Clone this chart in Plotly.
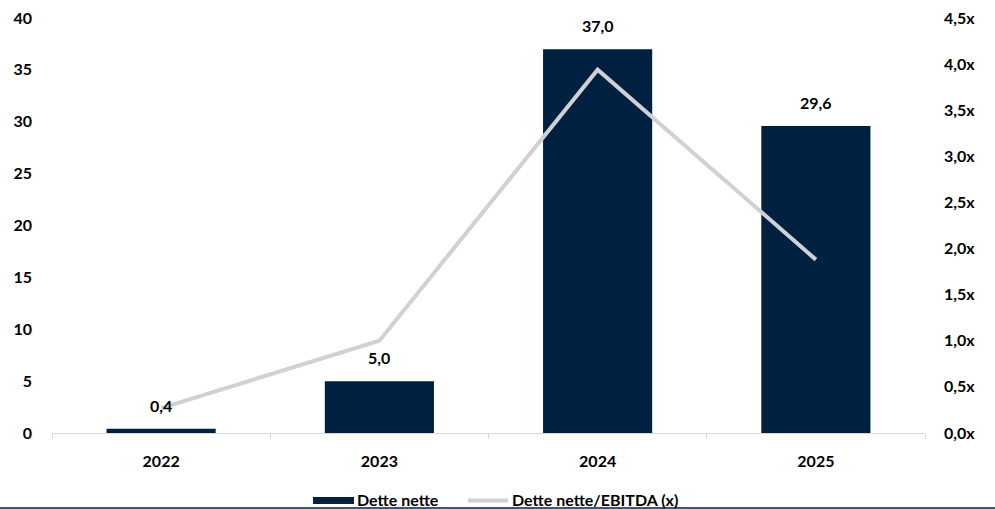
import plotly.graph_objects as go

years = ["2022", "2023", "2024", "2025"]
net_debt = [0.4, 5.0, 37.0, 29.6]
debt_ebitda = [0.27, 1.0, 3.94, 1.88]
bar_labels = ["0,4", "5,0", "37,0", "29,6"]
series_names = ["Dette nette", "Dette nette/EBITDA (x)"]

BAR = "#00203f"
LINE = "#cfd1d5"
FONT = "Lato"

W, H = 995, 509
L, R, T, B = 52, 70, 18, 76
pw = W - L - R
ph = H - T - B


def px_x(x):
    return (x - L) / pw


def px_y(y):
    return (H - B - y) / ph


fig = go.Figure()
fig.add_trace(go.Bar(
    x=years, y=net_debt, name=series_names[0],
    marker=dict(color=BAR, line=dict(width=0)),
    width=0.5, showlegend=False,
))
fig.add_trace(go.Scatter(
    x=years, y=debt_ebitda, name=series_names[1], yaxis="y2",
    mode="lines", line=dict(color=LINE, width=4), showlegend=False,
))

annotations = [
    dict(x=i, y=v, text=lab, xref="x", yref="y", showarrow=False,
         yanchor="bottom", yshift=12,
         font=dict(family=FONT, size=16, color="#000000", weight="bold"))
    for i, (v, lab) in enumerate(zip(net_debt, bar_labels))
]
# custom legend labels
annotations += [
    dict(x=px_x(355), y=px_y(500), xref="paper", yref="paper", text=series_names[0],
         showarrow=False, xanchor="left", yanchor="middle",
         font=dict(family=FONT, size=16, color="#000000", weight="bold")),
    dict(x=px_x(510), y=px_y(500), xref="paper", yref="paper", text=series_names[1],
         showarrow=False, xanchor="left", yanchor="middle",
         font=dict(family=FONT, size=16, color="#000000", weight="bold")),
]

shapes = [
    dict(type="line", xref="paper", yref="paper",
         x0=px_x(0), x1=px_x(W), y0=px_y(508), y1=px_y(508),
         line=dict(color="#44546a", width=2)),
    dict(type="rect", xref="paper", yref="paper",
         x0=px_x(313), x1=px_x(354), y0=px_y(497), y1=px_y(504),
         fillcolor=BAR, line=dict(width=0)),
    dict(type="line", xref="paper", yref="paper",
         x0=px_x(468), x1=px_x(508), y0=px_y(500.5), y1=px_y(500.5),
         line=dict(color=LINE, width=4)),
]

fig.update_layout(
    width=W, height=H,
    margin=dict(l=L, r=R, t=T, b=B, autoexpand=False),
    paper_bgcolor="white", plot_bgcolor="white",
    separators=",.",
    font=dict(family=FONT, size=16, color="#000000", weight="bold"),
    showlegend=False,
    xaxis=dict(type="category", range=[-0.5, len(years) - 0.5],
               showline=True, linecolor="#d9d9d9", linewidth=1,
               ticks="outside", tickson="boundaries", tickcolor="#d9d9d9", ticklen=5,
               showgrid=False, ticklabelstandoff=14,
               tickfont=dict(family=FONT, size=16, weight="bold")),
    yaxis=dict(range=[0, 40], dtick=5, showgrid=False, zeroline=False, showline=False,
               ticks="", ticklabelstandoff=19,
               tickfont=dict(family=FONT, size=16, weight="bold")),
    yaxis2=dict(range=[0, 4.5], dtick=0.5, overlaying="y", side="right",
                tickformat=".1f", ticksuffix="x", showgrid=False, zeroline=False,
                showline=False, ticks="", ticklabelstandoff=18,
                tickfont=dict(family=FONT, size=16, weight="bold")),
    annotations=annotations,
    shapes=shapes,
)

fig.write_html("out.html")
